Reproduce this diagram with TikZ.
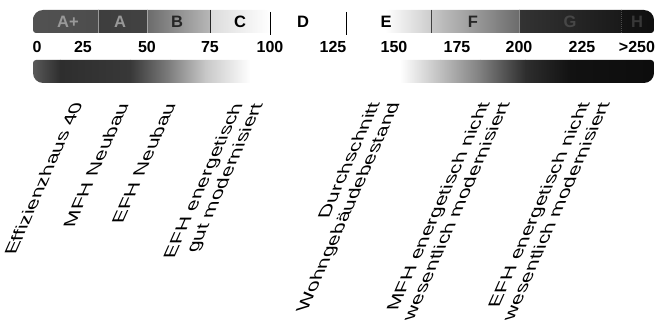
\documentclass[tikz,border=0pt]{standalone}
\usepackage{fontspec}
\setmainfont{Liberation Sans}
\usepackage{tikz}

\begin{document}
\begin{tikzpicture}[x=1pt,y=1pt,
    klasse/.style={font=\fontsize{16.5}{16.5}\selectfont\bfseries},
    zahl/.style={font=\fontsize{16}{16}\selectfont\bfseries},
    gebaeude/.style={font=\fontsize{10}{12}\selectfont, align=right, inner sep=0pt,
      anchor=north east, cm={0.928,2.084,-1.67,0,(0,0)}, transform shape}]
    \useasboundingbox (0,0) rectangle (659,-321);
    \begin{scope}
      \clip (33,-20) [rounded corners=10pt] -- (33,-10) -- (654,-10) -- (654,-22)
        [rounded corners=3pt] -- (654,-33) -- (33,-33) -- cycle;
      \foreach \xa/\xb/\ca/\cb in {33/98/black!68/black!70, 98/147/black!76/black!74,
        147/210/black!58/black!28, 210/270/black!14/white, 270/385/white/white,
        385/431/white/black!20, 431/519/black!22/black!58, 519/621/black!80/black!90,
        621/654/black!92/black!94}
      {
        \shade[left color=\ca, right color=\cb] (\xa,-10) rectangle (\xb+0.5,-33);
      }
    \end{scope}
    \begin{scope}
      \clip (33,-71) [rounded corners=10pt] -- (33,-83) -- (654,-83) -- (654,-71)
        [rounded corners=3pt] -- (654,-60) -- (33,-60) -- cycle;
      \foreach \xa/\xb/\ca/\cb in {33/60/black!65/black!82, 60/130/black!82/black!78,
        130/170/black!78/black!50, 170/205/black!50/black!22, 205/250/black!22/white,
        250/400/white/white, 400/440/white/black!25, 440/480/black!25/black!50,
        480/525/black!50/black!82, 525/570/black!82/black!93, 570/654/black!93/black!95}
      {
        \shade[left color=\ca, right color=\cb] (\xa,-60) rectangle (\xb+0.5,-83);
      }
    \end{scope}
    \foreach \x/\c/\ya/\yb in {98/black!40/10/33, 147/black!35/10/33, 210/black!85/10/33,
      270/black/12/35, 346/black/12/35, 431/black!75/10/33, 519/black!45/10/33}
    {
      \draw[color=\c, line width=1pt] (\x,-\ya) -- (\x,-\yb);
    }
    \draw[black!70, densely dotted, line width=1pt] (621,-10) -- (621,-33);
    \foreach \n/\x/\t/\c in {kAp/68/A+/black!40, kA/120/A/black!40, kB/177/B/black!85,
      kC/240/C/black, kD/303/D/black, kE/386/E/black, kF/473/F/black!85,
      kG/570/G/black!72, kH/637/H/black!78}
    {
      \node[klasse, text=\c] (\n) at (\x,-22) {\t};
    }
    \foreach \n/\x/\t in {z0/37/0, z25/83/25, z50/147/50, z75/210/75, z100/270/100,
      z125/333/125, z150/394/150, z175/457/175, z200/519/200, z225/582/225,
      z250/637/{>250}}
    {
      \node[zahl] (\n) at (\x,-47) {\t};
    }
    \foreach \n/\x/\y/\t in {eff/71/102/{Effizienzhaus 40}, mfhNeu/117/103/{MFH Neubau},
      efhNeu/164/103/{EFH Neubau}, efhGut/231/103/{EFH energetisch\\gut modernisiert},
      schnitt/368/102/{Durchschnitt\\Wohngebäudebestand},
      mfhAlt/478/102/{MFH energetisch nicht\\wesentlich modernisiert},
      efhAlt/578/102/{EFH energetisch nicht\\wesentlich modernisiert}}
    {
      \begin{scope}[shift={(\x,-\y)}]
        \node[gebaeude] (\n) at (0,0) {\t};
      \end{scope}
    }
  \end{tikzpicture}
\end{document}
